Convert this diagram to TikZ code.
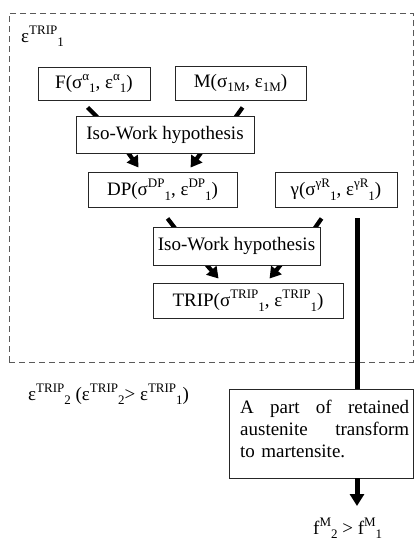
\documentclass[tikz,border=0pt]{standalone}
\usepackage{fontspec}
\setmainfont{Liberation Serif}
\usetikzlibrary{arrows.meta,calc}
\pgfdeclarelayer{bg}
\pgfsetlayers{bg,main}
\newcommand\up[1]{\raisebox{0.42em}{\fontsize{13}{13}\selectfont #1}}
\newcommand\dn[1]{\raisebox{-0.24em}{\fontsize{13}{13}\selectfont #1}}
\newcommand\fillline[1]{\makebox[169pt][l]{#1}}
\begin{document}
\begin{tikzpicture}[x=1pt,y=-1pt,
  every node/.style={font=\fontsize{19}{22}\selectfont, inner sep=0pt},
  box/.style={draw=black!85, line width=0.9pt, fill=white},
  frame/.style={draw=black!65, line width=0.9pt, dash pattern=on 6pt off 4pt},
  stub/.style={line width=4.2pt},
  arr/.style={line width=4.2pt, -{Triangle[length=11pt,width=13pt]}},
  bigarr/.style={line width=5pt, -{Triangle[length=12pt,width=14pt]}},
]
\useasboundingbox (0,0) rectangle (415,541);
\node[frame, minimum width=404pt, minimum height=349pt] (frame) at (211,187.5) {};
\node[anchor=base west] (lab1) at (21,42) {ε\up{TRIP}\dn{1}};

\node[box, minimum width=112pt, minimum height=33pt] (F) at (94,83.5) {F(σ\up{α}\dn{1}, ε\up{α}\dn{1})};
\node[box, minimum width=131pt, minimum height=34pt] (M) at (240.5,83) {M(σ\dn{1M}, ε\dn{1M})};
\node[box, minimum width=178pt, minimum height=37pt] (iso1) at (165,134.5) {Iso-Work hypothesis};
\node[box, minimum width=149pt, minimum height=35pt] (dp) at (162.5,189.5) {DP(σ\up{DP}\dn{1}, ε\up{DP}\dn{1})};
\node[box, minimum width=122pt, minimum height=35pt] (gam) at (336,189.5) {γ(σ\up{γR}\dn{1}, ε\up{γR}\dn{1})};
\node[box, minimum width=167pt, minimum height=38pt] (iso2) at (236.5,246) {Iso-Work hypothesis};
\node[box, minimum width=190pt, minimum height=35pt] (trip) at (248,300.5) {TRIP(σ\up{TRIP}\dn{1}, ε\up{TRIP}\dn{1})};
\node[box, minimum width=184pt, minimum height=89pt] (part) at (321,433.5) {};
\node[anchor=north west, text width=169pt, align=left] (parttext) at (240,400)
  {\fillline{A\hfill part\hfill of\hfill retained}\\\fillline{austenite\hfill transform}\\to martensite.};

\node[anchor=base west] (lab2) at (28,400) {ε\up{TRIP}\dn{2} (ε\up{TRIP}\dn{2}> ε\up{TRIP}\dn{1})};
\node[anchor=base west] (lab3) at (313,534) {f\up{M}\dn{2} > f\up{M}\dn{1}};

\coordinate (gtop) at (357,218);
\coordinate (fm) at (357,506);

\begin{pgfonlayer}{bg}
\draw[stub] ($(F.south west)+(50,7)$) -- ($(iso1.north west)+(26,6)$);
\draw[stub] ($(M.south west)+(68,7)$) -- ($(iso1.north east)+(-22,6)$);
\draw[arr] ($(iso1.south west)+(51,-3)$) -- ($(dp.north west)+(51,-4)$);
\draw[arr] ($(iso1.south west)+(127,-3)$) -- ($(dp.north west)+(103,-4)$);
\draw[stub] ($(dp.south west)+(80,11)$) -- ($(iso2.north west)+(25,5)$);
\draw[stub] ($(gam.south west)+(47,11)$) -- ($(iso2.north east)+(-8,5)$);
\draw[arr] ($(iso2.south west)+(52,-3)$) -- ($(trip.north west)+(66,-4)$);
\draw[arr] ($(iso2.south west)+(130,-3)$) -- ($(trip.north west)+(117,-4)$);
\end{pgfonlayer}
\draw[line width=5pt] (gtop) -- (gtop |- part.north);
\draw[bigarr] (gtop |- part.south) -- (fm);
\end{tikzpicture}
\end{document}
